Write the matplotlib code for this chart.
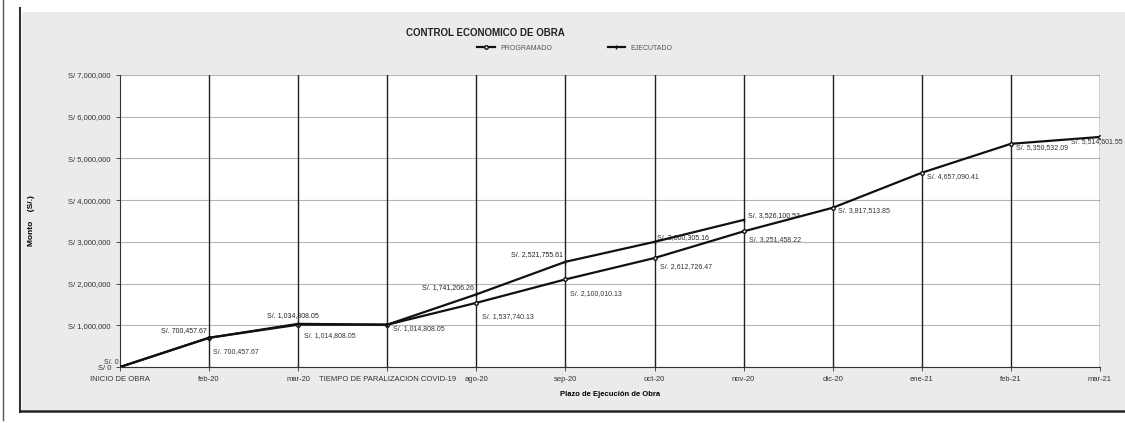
import matplotlib.pyplot as plt
from matplotlib.patches import Rectangle
from matplotlib.ticker import FuncFormatter

meses = ["INICIO DE OBRA", "feb-20", "mar-20", "TIEMPO DE PARALIZACION COVID-19", "ago-20",
         "sep-20", "oct-20", "nov-20", "dic-20", "ene-21", "feb-21", "mar-21"]
programado = [0, 700457.67, 1014808.05, 1014808.05, 1537740.13, 2100010.13,
              2612726.47, 3251458.22, 3817513.85, 4657090.41, 5350532.09, 5514601.55]
ejecutado = [0, 700457.67, 1034808.05, 1014808.05, 1741206.26, 2521755.61,
             3000305.16, 3526100.53]

plt.rcParams['font.family'] = ['Liberation Sans', 'DejaVu Sans']

fig = plt.figure(figsize=(11.25, 4.23), dpi=100)
fig.patch.set_facecolor("white")

# fondo gris del area del grafico y bordes
fig.patches.append(Rectangle((22/1125, 1-410/423), 1-22/1125, (410-12)/423,
                             transform=fig.transFigure, facecolor="#ebebeb",
                             edgecolor="none", zorder=-5))
fig.add_artist(plt.Line2D([20/1125, 20/1125], [1-412/423, 1-8/423], color="#333333", lw=1.5))
fig.add_artist(plt.Line2D([3/1125, 3/1125], [1-420/423, 1-0/423], color="#555555", lw=1.0))
fig.add_artist(plt.Line2D([20/1125, 1], [1-411/423, 1-411/423], color="#222222", lw=1.8))

ax = fig.add_axes([120/1125, 1-367/423, 980/1125, 292/423])
ax.set_facecolor("white")
x = list(range(len(meses)))

ax.plot(x, programado, color="#111111", lw=1.6, marker="o", ms=2.5, mfc="white", zorder=3,
        label="PROGRAMADO")
ax.plot(x[:len(ejecutado)], ejecutado, color="#111111", lw=1.6, marker="|", ms=3, zorder=3,
        label="EJECUTADO")

ax.set_xlim(0, len(meses) - 1)
ax.set_ylim(0, 7000000)
ax.set_yticks(range(0, 7000001, 1000000))
ax.yaxis.set_major_formatter(FuncFormatter(lambda v, p: "S/ 0" if v == 0 else "S/ {:,.0f}".format(v)))
ax.set_xticks(x)
ax.set_xticklabels(meses)
ax.tick_params(axis="both", labelsize=5.5, colors="#333333", length=3, width=0.6)
ax.grid(axis="y", color="#b5b5b5", lw=0.8)
for xi in x[1:]:
    ax.axvline(xi, color="#222222", lw=1.0, zorder=1)
ax.set_axisbelow(True)
for s in ["top", "right"]:
    ax.spines[s].set_visible(False)
ax.spines["left"].set_color("#333333")
ax.spines["bottom"].set_color("#333333")

# etiquetas de datos
prog_off = [(-1, 3), (3, -10), (4, -8), (4, -3), (4, -10), (3, -10),
            (4, -6), (4, -6), (4, -2), (4, -3), (4, -3), (16, -3)]
prog_ha = ["right"] + ["left"] * 10 + ["right"]
for i, v in enumerate(programado):
    txt = "S/. 0" if v == 0 else "S/. {:,.2f}".format(v)
    ax.annotate(txt, (x[i], v), xytext=prog_off[i], textcoords="offset points",
                fontsize=5, color="#333333", ha=prog_ha[i], va="center", annotation_clip=False)
ejec_off = [None, (-2, 5), (-4, 6), None, (-2, 5), (-2, 5), (2, 3), (3, 3)]
ejec_ha = [None, "right", "center", None, "right", "right", "left", "left"]
for i, v in enumerate(ejecutado):
    if ejec_off[i] is None:
        continue
    txt = "S/. {:,.2f}".format(v)
    ax.annotate(txt, (x[i], v), xytext=ejec_off[i], textcoords="offset points",
                fontsize=5, color="#222222", ha=ejec_ha[i], va="center", annotation_clip=False)

ax.set_xlabel("Plazo de Ejecución de Obra", fontsize=5.5, fontweight="bold", labelpad=6)
ax.set_ylabel("Monto    (S/.)", fontsize=6, fontweight="bold", labelpad=24)

fig.text(485/1125, 1-33/423, "CONTROL ECONOMICO DE OBRA", ha="center", va="center",
         fontsize=7, fontweight="bold", color="#222222")
ax.legend(loc="center", bbox_to_anchor=(575/1125, 1-48/423), bbox_transform=fig.transFigure,
          ncol=2, frameon=False, fontsize=5, columnspacing=8, handlelength=2.5,
          labelcolor="#555555")

fig.savefig("out.png", dpi=100)
